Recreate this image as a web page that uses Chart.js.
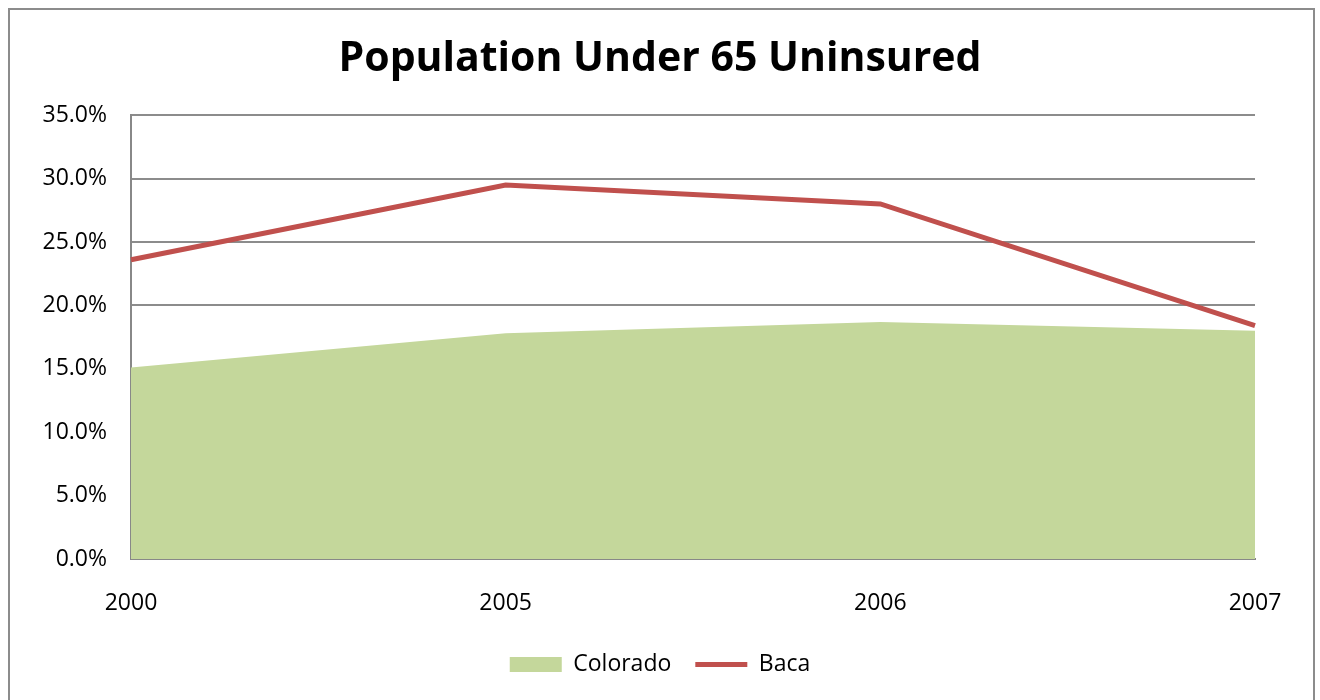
<!DOCTYPE html>
<html>
<head>
<meta charset="utf-8">
<script src="https://cdn.jsdelivr.net/npm/chart.js@4"></script>
<style>
  html, body { margin: 0; padding: 0; background: #fff; }
  #wrap { width: 1320px; height: 700px; position: relative; }
</style>
</head>
<body>
<div id="wrap"><canvas id="chart" width="1320" height="700"></canvas></div>
<script>
const years = ['2000', '2005', '2006', '2007'];
const colorado = [15.1, 17.8, 18.7, 18.0];
const baca = [23.6, 29.5, 28.0, 18.4];
const yTicks = [0, 5, 10, 15, 20, 25, 30, 35];

const FONT = "'Open Sans', 'Noto Sans', sans-serif";

// outer frame round the whole chart
const frame = {
  id: 'frame',
  afterDraw(chart) {
    const ctx = chart.ctx;
    ctx.save();
    ctx.strokeStyle = '#8c8c8c';
    ctx.lineWidth = 2;
    ctx.strokeRect(9, 9, 1305, 700);
    ctx.restore();
  },
};

new Chart(document.getElementById('chart'), {
  type: 'line',
  data: {
    labels: years,
    datasets: [
      {
        label: 'Colorado',
        data: colorado,
        fill: 'origin',
        backgroundColor: '#c4d79b',
        borderColor: '#c4d79b',
        borderWidth: 0,
        pointRadius: 0,
        pointStyle: 'rect',
        tension: 0,
      },
      {
        label: 'Baca',
        data: baca,
        fill: false,
        borderColor: '#c0504d',
        backgroundColor: '#c0504d',
        borderWidth: 5,
        pointRadius: 0,
        pointStyle: 'line',
        tension: 0,
      },
    ],
  },
  options: {
    responsive: false,
    animation: false,
    layout: { padding: { left: 20, right: 20, top: 35, bottom: 14 } },
    plugins: {
      title: {
        display: true,
        text: 'Population Under 65 Uninsured',
        color: '#000',
        font: { family: FONT, size: 41, weight: 'bold' },
        padding: { top: 0, bottom: 31 },
      },
      legend: {
        position: 'bottom',
        labels: {
          color: '#000',
          font: { family: FONT, size: 23 },
          usePointStyle: true,
          pointStyleWidth: 52,
          boxHeight: 15,
          padding: 24,
        },
      },
      tooltip: { enabled: false },
    },
    scales: {
      x: {
        offset: false,
        grid: { display: false, drawTicks: false },
        border: { display: true, color: '#888888', width: 2 },
        ticks: {
          color: '#000',
          font: { family: FONT, size: 23 },
          padding: 31,
          maxRotation: 0,
        },
        afterFit(scale) { scale.height = 70; },
      },
      y: {
        min: 0,
        max: 35,
        afterBuildTicks(scale) {
          scale.ticks = yTicks.map((v) => ({ value: v }));
        },
        grid: { color: '#8c8c8c', lineWidth: 2, drawTicks: false },
        border: { display: true, color: '#888888', width: 2 },
        ticks: {
          color: '#000',
          font: { family: FONT, size: 23 },
          padding: 24,
          callback: (v) => v.toFixed(1) + '%',
        },
        afterFit(scale) { scale.width = 111; },
      },
      // empty right-hand spacer so the plot ends where the reference does
      spacer: {
        position: 'right',
        grid: { display: false, drawTicks: false },
        border: { display: false },
        ticks: { display: false },
        afterFit(scale) { scale.width = 45; },
      },
    },
  },
  plugins: [frame],
});
</script>
</body>
</html>
